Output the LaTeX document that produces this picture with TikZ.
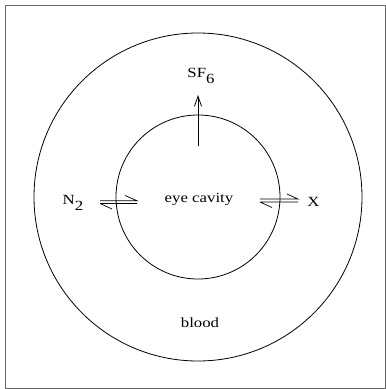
\documentclass[tikz,border=0pt]{standalone}
\usepackage{fontspec}
\setmainfont{Liberation Serif}[FakeStretch=1.2]
\usetikzlibrary{arrows.meta}

\begin{document}
\begin{tikzpicture}[x=1pt,y=-1pt,line width=0.8pt,
  every node/.style={font=\fontsize{14}{16}\selectfont,inner sep=1pt},
  barb/.style={line width=0.7pt}]
\useasboundingbox (0,0) rectangle (386,389);
\draw[black!60] (5.5,5) rectangle (385,388.5);
% blood and eye
\draw (198,197) circle[radius=164];
\draw (198,197) circle[radius=82];
\node (eye) at (199,199) {eye cavity};
\node (blood) at (200,323) {blood};
% gases
\node (sf) at (201,76) {SF\raisebox{-0.9ex}{6}};
\node (n2) at (73,203) {N\raisebox{-0.9ex}{2}};
\node (x) at (313.5,202) {X};
\coordinate (sfin) at (198,146);
\draw[-{Straight Barb[length=10pt,width=7pt]}] (sfin)--(198,95);
% equilibria
\draw[barb] (100,200.7)--(137,200.7)--(125,195.5)
(100,203.5)--(137,203.5) (100,203.5)--(112,209);
\draw[barb] (260,199)--(298,199)--(287,194)
(260,202)--(298,202) (260,202)--(272,207.5);
\end{tikzpicture}
\end{document}
